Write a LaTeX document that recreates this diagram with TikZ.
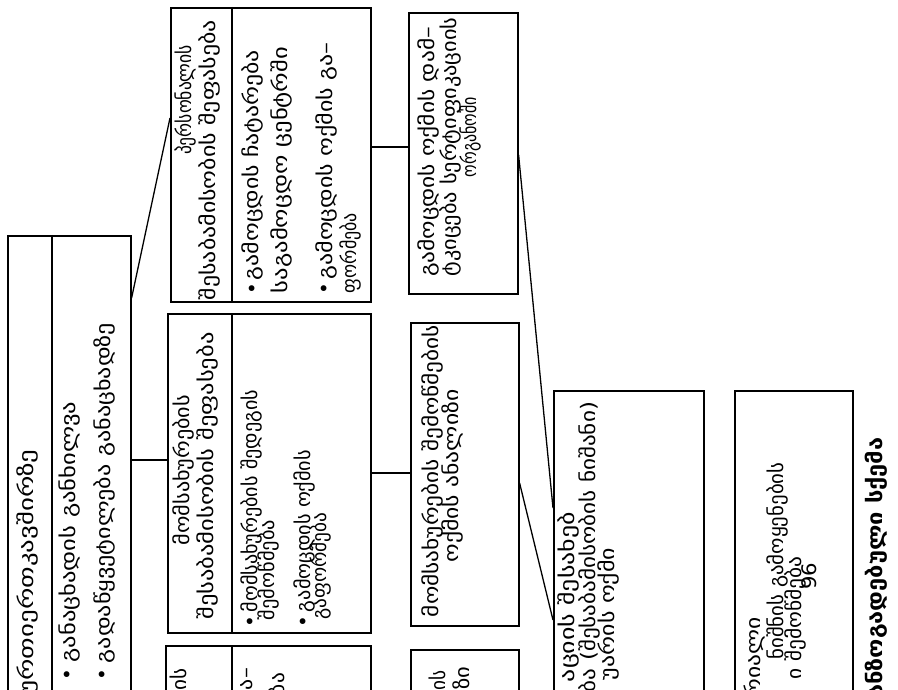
\documentclass[tikz,border=0pt]{standalone}
\usepackage{fontspec}
\usepackage{graphicx}
\setmainfont{DejaVu Sans}
\usetikzlibrary{calc}
\newcommand{\gline}[2]{\resizebox{#1pt}{\height}{#2}}
\begin{document}
\begin{tikzpicture}[x=1pt,y=-1pt,
  box/.style={draw, line width=1.6pt, inner sep=0pt, anchor=north west, fill=none},
  div/.style={line width=1.2pt},
  conn/.style={line width=1.3pt},
  t/.style={rotate=90, inner sep=0pt, font=\fontsize{20}{24}\selectfont},
  ttl/.style={rotate=90, inner sep=0pt, font=\fontsize{21}{25}\selectfont\bfseries}]
\useasboundingbox (0,0) rectangle (898,690);
\clip (0,0) rectangle (898,690);
\fill[white] (0,0) rectangle (898,690);
% boxes
\node[box, minimum width=123pt, minimum height=545pt] (A) at (7,235) {};
\node[box, minimum width=200pt, minimum height=294pt] (B) at (170,7) {};
\node[box, minimum width=203pt, minimum height=319pt] (C) at (167,313) {};
\node[box, minimum width=205pt, minimum height=200pt] (H) at (165,645) {};
\node[box, minimum width=109pt, minimum height=281pt] (D) at (408,12) {};
\node[box, minimum width=108pt, minimum height=303pt] (E) at (410,322) {};
\node[box, minimum width=108pt, minimum height=200pt] (I) at (410,649) {};
\node[box, minimum width=150pt, minimum height=400pt] (F) at (553,390) {};
\node[box, minimum width=118pt, minimum height=400pt] (G) at (734,390) {};
% dividers
\draw[div] ($(A.north west)+(45,0)$) -- ($(A.south west)+(45,0)$);
\draw[div] ($(B.north west)+(62,0)$) -- ($(B.south west)+(62,0)$);
\draw[div] ($(C.north west)+(65,0)$) -- ($(C.south west)+(65,0)$);
\draw[div] ($(H.north west)+(67,0)$) -- ($(H.south west)+(67,0)$);
% connectors
\draw[conn] ($(A.north east)+(0,63)$) -- ($(B.north west)+(0,111)$);
\draw[conn] ($(A.north east)+(0,225)$) -- ($(C.north west)+(0,147)$);
\draw[conn] ($(B.north east)+(0,140)$) -- ($(D.north west)+(0,135)$);
\draw[conn] ($(C.north east)+(0,160)$) -- ($(E.north west)+(0,151)$);
\draw[conn] ($(D.north east)+(0,143)$) -- ($(F.north west)+(0,118)$);
\draw[conn] ($(E.north east)+(0,161)$) -- ($(F.north west)+(0,230)$);
% box A texts
\node[t] (a1) at (27,572) {\gline{245}{ურთიერთკავშირზე}};
\node[t] (a2b) at (69,675) {•};
\node[t] (a2) at (70,532) {\gline{261}{განაცხადის განხილვა}};
\node[t] (a3b) at (104,675) {•};
\node[t] (a3) at (104,493) {\gline{340}{გადაწყვეტილება განაცხადზე}};
% box B texts
\node[t] (b1) at (186,100) {\gline{110}{პერსონალის}};
\node[t] (b2) at (209,160) {\gline{280}{შესაბამისობის შეფასება}};
\node[t] (b3b) at (254,289) {•};
\node[t] (b3) at (252,165) {\gline{230}{გამოცდის ჩატარება}};
\node[t] (b4) at (281,170) {\gline{246}{საგამოცდო ცენტრში}};
\node[t] (b5b) at (326,289) {•};
\node[t] (b5) at (326,161) {\gline{237}{გამოცდის ოქმის გა–}};
\node[t] (b6) at (350,253) {\gline{80}{ფორმება}};
% box C texts
\node[t] (c1) at (183,470) {\gline{150}{მომსახურების}};
\node[t] (c2) at (207,476) {\gline{287}{შესაბამისობის შეფასება}};
\node[t] (c3b) at (252,622) {•};
\node[t] (c3) at (251,501) {\gline{222}{მომსახურების შედეგის}};
\node[t] (c4) at (268,570) {\gline{100}{შემოწმება}};
\node[t] (c5b) at (305,622) {•};
\node[t] (c5) at (304,531) {\gline{162}{გამოცდის ოქმის}};
\node[t] (c6) at (320,566) {\gline{107}{გაფორმება}};
% box D texts
\node[t] (d1) at (428,152) {\gline{250}{გამოცდის ოქმის დამ–}};
\node[t] (d2) at (450,147) {\gline{259}{ტკიცება სერტიფიკაციის}};
\node[t] (d3) at (470,137) {\gline{80}{ორგანოში}};
% box E texts
\node[t] (e1) at (432,471) {\gline{292}{მომსახურების შემოწმების}};
\node[t] (e2) at (452,476) {\gline{173}{ოქმის ანალიზი}};
% box F texts
\node[t] (f1) at (568,597) {\gline{170}{აციის შესახებ}};
\node[t] (f2) at (589,547) {\gline{290}{ბა (შესაბამისობის ნიშანი)}};
\node[t] (f3) at (608,614) {\gline{132}{უარის ოქმი}};
% box G texts
\node[t] (g1) at (754,657) {\gline{80}{რიალი}};
\node[t] (g2) at (777,561) {\gline{197}{ნიშნის გამოყენების}};
\node[t] (g3) at (795,618) {\gline{123}{ი შემოწმება}};
\node[t] (pg) at (809,576) {\gline{27}{96}};
% box H, I fragments
\node[t] (h1) at (178,679) {\gline{22}{ის}};
\node[t] (h2) at (247,679) {\gline{22}{ა–}};
\node[t] (h3) at (276,684) {\gline{22}{ბა}};
\node[t] (i1) at (437,680) {\gline{20}{ის}};
\node[t] (i2) at (461,678) {\gline{23}{ზი}};
% title
\node[ttl] (title) at (876,575) {\gline{275}{განზოგადებული სქემა}};
\end{tikzpicture}
\end{document}
